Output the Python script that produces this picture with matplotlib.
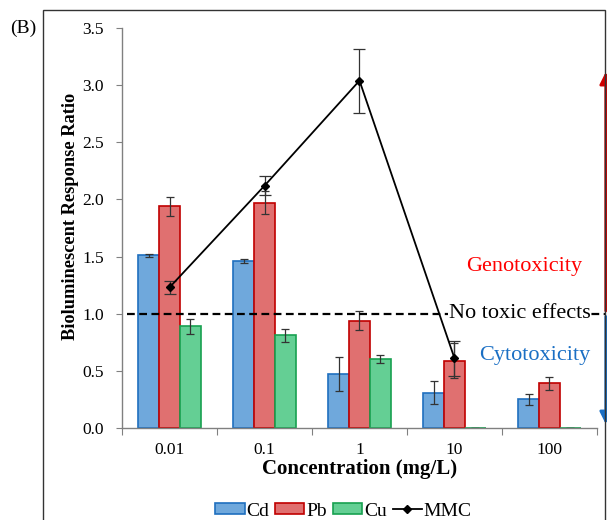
import matplotlib
matplotlib.use("Agg")
import matplotlib.pyplot as plt
import numpy as np
from matplotlib.lines import Line2D
from matplotlib.patches import Patch, Rectangle

plt.rcParams["font.family"] = ["Liberation Serif", "DejaVu Serif"]

concentrations = ["0.01", "0.1", "1", "10", "100"]

cd_mean = [1.51, 1.46, 0.47, 0.31, 0.25]
cd_err = [0.015, 0.02, 0.15, 0.10, 0.045]
pb_mean = [1.94, 1.97, 0.94, 0.59, 0.39]
pb_err = [0.085, 0.10, 0.08, 0.15, 0.06]
cu_mean = [0.89, 0.81, 0.60, 0.0, 0.0]
cu_err = [0.065, 0.06, 0.035, 0.0, 0.0]
mmc_mean = [1.23, 2.12, 3.04, 0.61, np.nan]
mmc_err = [0.06, 0.085, 0.28, 0.155, np.nan]

bar_colors = {
    "Cd": ("#6fa8dc", "#1f6fbf"),
    "Pb": ("#e07070", "#c00000"),
    "Cu": ("#64cf94", "#18a150"),
}

fig = plt.figure(figsize=(6.07, 5.20), dpi=100)
ax = fig.add_axes([0.201, 0.177, 0.7825, 0.769])

x = np.arange(len(concentrations))
width = 0.22
err_kw = dict(ecolor="#333333", elinewidth=0.9, capsize=3, capthick=0.9)
for offset, name, vals, errs in [(-width, "Cd", cd_mean, cd_err),
                                 (0.0, "Pb", pb_mean, pb_err),
                                 (width, "Cu", cu_mean, cu_err)]:
    face, edge = bar_colors[name]
    ax.bar(x + offset, vals, width, yerr=errs, color=face, edgecolor=edge,
           linewidth=1.2, error_kw=err_kw, zorder=2)

ax.errorbar(x, mmc_mean, yerr=mmc_err, fmt="-D", color="black", markersize=4.5,
            linewidth=1.3, ecolor="#333333", elinewidth=0.9, capsize=4,
            capthick=0.9, zorder=4)

# threshold line for "no toxic effects", runs past the axes to the arrows
ax.plot([0.01, 1.017], [1.0, 1.0], transform=ax.get_yaxis_transform(),
        color="black", linestyle=(0, (3.5, 2)), linewidth=1.6,
        clip_on=False, zorder=3)
ax.text(0.837, 1.0, "No toxic effects", transform=ax.get_yaxis_transform(),
        ha="center", va="center", fontsize=16,
        bbox=dict(facecolor="white", edgecolor="none", pad=0.5), zorder=5)
ax.text(0.847, 1.41, "Genotoxicity", transform=ax.get_yaxis_transform(),
        ha="center", va="center", fontsize=16, color="#ff0000")
ax.text(0.869, 0.63, "Cytotoxicity", transform=ax.get_yaxis_transform(),
        ha="center", va="center", fontsize=16, color="#1a6fc4")

arrow_x = 1.0185
ax.annotate("", xy=(arrow_x, 3.14), xytext=(arrow_x, 1.0),
            xycoords=ax.get_yaxis_transform(),
            textcoords=ax.get_yaxis_transform(),
            arrowprops=dict(arrowstyle="-|>", color="#d00000", lw=2,
                            mutation_scale=18), annotation_clip=False)
ax.annotate("", xy=(arrow_x, 0.01), xytext=(arrow_x, 1.0),
            xycoords=ax.get_yaxis_transform(),
            textcoords=ax.get_yaxis_transform(),
            arrowprops=dict(arrowstyle="-|>", color="#1a6fc4", lw=2,
                            mutation_scale=18), annotation_clip=False)

ax.set_xlim(-0.5, len(concentrations) - 0.5)
ax.set_ylim(0, 3.5)
ax.set_yticks(np.arange(0, 3.51, 0.5))
ax.set_yticklabels([f"{v:.1f}" for v in np.arange(0, 3.51, 0.5)])
ax.set_xticks(np.arange(-0.5, len(concentrations), 1.0))
ax.set_xticklabels([])
ax.set_xticks(x, minor=True)
ax.set_xticklabels(concentrations, minor=True)
ax.tick_params(axis="x", which="minor", length=0, pad=10, labelsize=12.5)
ax.tick_params(axis="x", which="major", length=5, color="#808080", direction="out")
ax.tick_params(axis="y", length=4, color="#808080", labelsize=12.5, pad=9)

for side in ["top", "right"]:
    ax.spines[side].set_visible(False)
for side in ["left", "bottom"]:
    ax.spines[side].set_color("#808080")
    ax.spines[side].set_linewidth(1)

ax.set_xlabel("Concentration (mg/L)", fontsize=15, fontweight="bold", labelpad=1)
ax.set_ylabel("Bioluminescent Response Ratio", fontsize=13.2, fontweight="bold",
              va="center")
ax.yaxis.set_label_coords(-0.109, 0.53)

handles = [Patch(facecolor=bar_colors[n][0], edgecolor=bar_colors[n][1], lw=1.2)
           for n in ["Cd", "Pb", "Cu"]]
handles.append(Line2D([0], [0], color="black", marker="D", markersize=4, lw=1.3))
fig.legend(handles, ["Cd", "Pb", "Cu", "MMC"], loc="lower center",
           bbox_to_anchor=(0.566, -0.033), ncol=4, frameon=False, fontsize=14,
           handlelength=1.5, handleheight=0.5, handletextpad=0.1,
           columnspacing=0.3)

fig.text(0.016, 0.946, "(B)", fontsize=14, ha="left", va="center")
fig.add_artist(Rectangle((43 / 607, -0.1), (605 - 43) / 607, 1.1 - 10 / 520,
                         transform=fig.transFigure, fill=False,
                         edgecolor="#333333", linewidth=1))

fig.savefig("out.png", dpi=100)
